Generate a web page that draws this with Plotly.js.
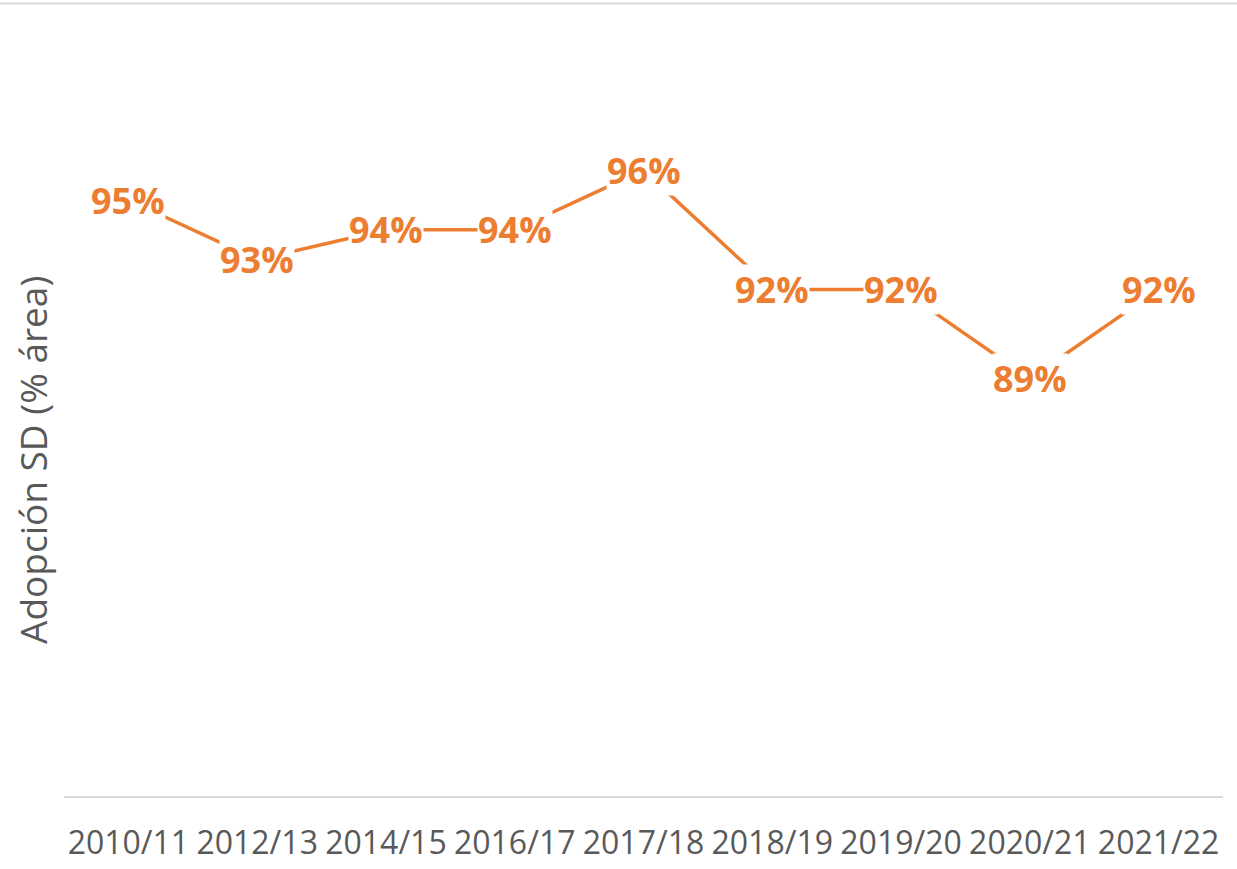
<!DOCTYPE html>
<html>
<head>
<meta charset="utf-8">
<script src="https://cdn.plot.ly/plotly-3.0.1.min.js"></script>
<style>html,body{margin:0;padding:0;background:#fff;}#chart{width:1237px;height:869px;}</style>
</head>
<body>
<div id="chart"></div>
<script>
var seasons = ["2010/11","2012/13","2014/15","2016/17","2017/18","2018/19","2019/20","2020/21","2021/22"];
var adoption = [95, 93, 94, 94, 96, 92, 92, 89, 92];
var valueLabels = ["95%","93%","94%","94%","96%","92%","92%","89%","92%"];
var yTitle = "Adopción SD (% área)";

var orange = "#ED7D31";
var trace = {
  x: seasons, y: adoption, type: "scatter", mode: "lines",
  line: {color: orange, width: 3.5}, hoverinfo: "skip"
};
var annotations = seasons.map(function(s, i){
  return {x: s, y: adoption[i], xref: "x", yref: "y", text: valueLabels[i], showarrow: false,
    bgcolor: "#ffffff", borderpad: 0,
    font: {family: "Open Sans, sans-serif", size: 36, color: orange, weight: "bold"}};
});
annotations.push({xref: "paper", yref: "paper", x: -0.0276, y: 0.451, text: yTitle, textangle: -90,
  showarrow: false, xanchor: "center", yanchor: "middle",
  font: {family: "Open Sans, sans-serif", size: 37, color: "#595959"}});
var layout = {
  width: 1237, height: 869,
  margin: {l: 64, r: 14, t: 51, b: 73},
  paper_bgcolor: "#fff", plot_bgcolor: "#fff",
  showlegend: false,
  font: {family: "Open Sans, sans-serif", color: "#595959"},
  xaxis: {type: "category", range: [-0.5, 8.5], showgrid: false, zeroline: false, showline: true, linecolor: "#d9d9d9", linewidth: 2,
    ticks: "", tickfont: {size: 32, color: "#595959"}, ticklabelstandoff: 18, fixedrange: true},
  yaxis: {range: [75, 100], showgrid: false, zeroline: false, showline: false, showticklabels: false, ticks: "",
    fixedrange: true},
  annotations: annotations,
  shapes: [{type: "line", xref: "paper", yref: "paper", x0: -0.06, x1: 1.02, y0: 1.0638, y1: 1.0638,
    line: {color: "#d9d9d9", width: 2}}]
};
Plotly.newPlot("chart", [trace], layout, {displayModeBar: false, staticPlot: true});
</script>
</body>
</html>
